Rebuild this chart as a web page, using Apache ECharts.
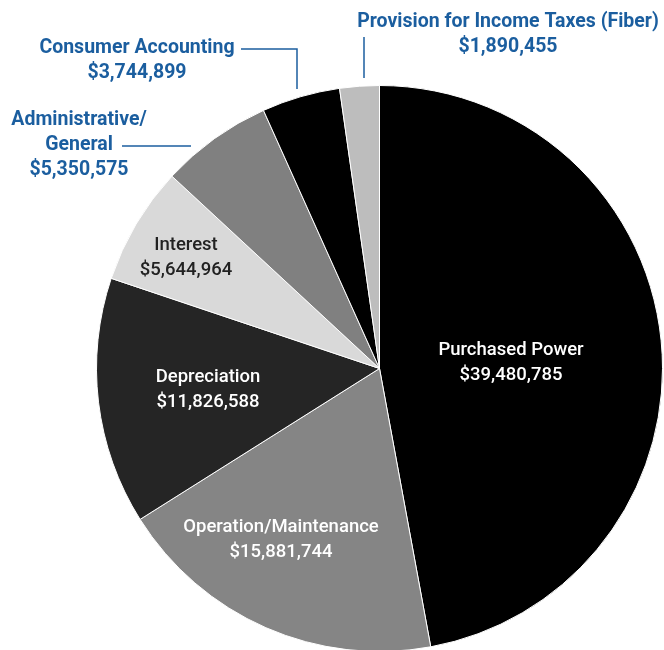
<!DOCTYPE html>
<html>
<head>
<meta charset="utf-8">
<script src="https://cdn.jsdelivr.net/npm/echarts@6/dist/echarts.min.js"></script>
<style>
  html, body { margin: 0; padding: 0; background: #ffffff; }
  #main { width: 664px; height: 650px; }
</style>
</head>
<body>
<div id="main"></div>
<script>
// expense categories, clockwise from 12 o'clock
var names = ['Purchased Power', 'Operation/Maintenance', 'Depreciation', 'Interest',
             'Administrative/\nGeneral', 'Consumer Accounting', 'Provision for Income Taxes (Fiber)'];
var values = [39480785, 15881744, 11826588, 5644964, 5350575, 3744899, 1890455];
var colors = ['#000000', '#858585', '#252525', '#d9d9d9', '#808080', '#000000', '#bdbdbd'];
var textColors = ['#ffffff', '#ffffff', '#ffffff', '#222222', '#1b5e9f', '#1b5e9f', '#1b5e9f'];
var outside = [false, false, false, false, true, true, true];

// where each label sits (centre of text block) and leader lines for the outside ones
var labelAt = [[511, 363], [281, 540], [208, 390], [186, 258], [79, 145], [137, 61], [508, 35]];
var leaders = {
  4: [[191, 146], [191, 146], [122, 146]],
  5: [[297, 89], [297, 49], [241, 49]],
  6: [[364, 78], [364, 37], [364, 37]]
};

var chart = echarts.init(document.getElementById('main'));

var data = names.map(function (n, i) {
  return {
    name: n,
    value: values[i],
    itemStyle: { color: colors[i] },
    label: {
      position: outside[i] ? 'outside' : 'inside',
      color: textColors[i],
      fontWeight: outside[i] ? 'bold' : 500,
      fontSize: outside[i] ? 19.5 : 18.5
    },
    labelLine: { show: outside[i] }
  };
});

chart.setOption({
  animation: false,
  backgroundColor: '#ffffff',
  series: [{
    type: 'pie',
    center: [379.5, 368.5],
    radius: 283,
    startAngle: 90,
    clockwise: true,
    itemStyle: { borderColor: '#ffffff', borderWidth: 1 },
    label: {
      fontFamily: 'Roboto',
      lineHeight: 25,
      align: 'center',
      overflow: 'none',
      formatter: function (p) {
        return p.name + '\n$' + p.value.toLocaleString('en-US');
      }
    },
    labelLine: {
      lineStyle: { color: '#1b5e9f', width: 1.5 }
    },
    labelLayout: function (p) {
      var pos = labelAt[p.dataIndex];
      var out = { x: pos[0], y: pos[1], align: 'center', verticalAlign: 'middle' };
      if (leaders[p.dataIndex]) out.labelLinePoints = leaders[p.dataIndex];
      return out;
    },
    data: data
  }]
});
</script>
</body>
</html>
